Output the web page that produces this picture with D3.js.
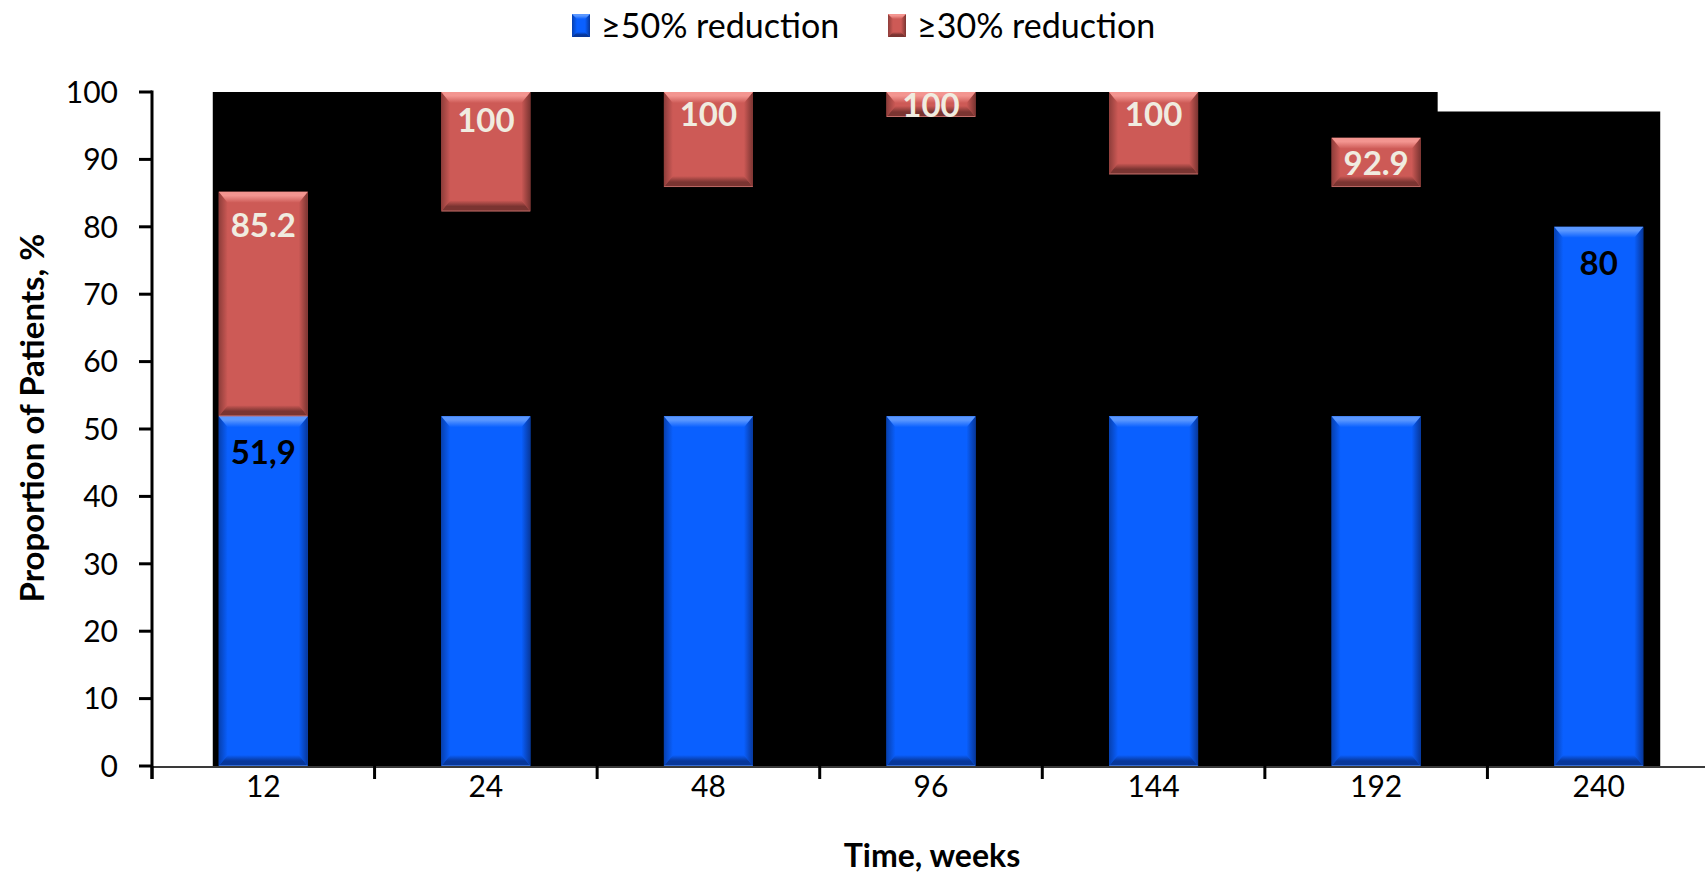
<!DOCTYPE html>
<html><head><meta charset="utf-8">
<script src="https://cdn.jsdelivr.net/npm/d3@7"></script>
<style>body{margin:0;background:#fff} svg{display:block}</style>
</head><body><svg id="c" width="1705" height="876"></svg>
<script>
const categories = ["12","24","48","96","144","192","240"];
const blueValues = [51.9,51.9,51.9,51.9,51.9,51.9,80];
const blueLabels = ["51,9","","","","","","80"];
const redBase = [51.9,82.3,85.9,96.3,87.8,85.9,null];
const redTop = [85.2,100,100,100,100,93.2,null];
const redLabels = ["85.2","100","100","100","100","92.9",""];
const coverTop = [100,100,100,100,100,100,97.1];
const yTicks = [0,10,20,30,40,50,60,70,80,90,100];
const seriesNames = ["≥50% reduction","≥30% reduction"];
const xTitle = "Time, weeks";
const yTitle = "Proportion of Patients, %";

// styling
const redLabelDy = [33,28,22,null,22,null,null];
const blueLabelDy = 36;
const palette = {
  blue:{base:"#0A60FF", light:"#5A97FF", dark:"#07379A", side:"#0640B0"},
  red:{base:"#CD5A56", light:"#F39590", dark:"#7A3431", side:"#8E3D3A"}
};
const FONT = "Lato, 'Open Sans', sans-serif";

const svg = d3.select("#c");
const x = d3.scaleBand().domain(categories).range([152,1710]);
const y = d3.scaleLinear().domain([0,100]).range([766,92]);
const step = x.step(), bw = step*0.4;
const barX = c => x(c) + (step-bw)/2;

const defs = svg.append("defs");
function grad(id, x2, y2, stops){
  const g = defs.append("linearGradient").attr("id",id).attr("x1",0).attr("y1",0).attr("x2",x2).attr("y2",y2);
  stops.forEach(s=>g.append("stop").attr("offset",s[0]).attr("stop-color",s[1]));
}
Object.entries(palette).forEach(([k,p])=>{
  grad(k+"-top",0,1,[[0,p.light],[0.35,p.light],[1,p.base]]);
  grad(k+"-bot",0,1,[[0,p.base],[0.55,p.dark],[0.9,p.dark],[1,p.light]]);
  grad(k+"-left",1,0,[[0,p.side],[1,p.base]]);
  grad(k+"-right",1,0,[[0,p.base],[1,p.dark]]);
});

function bevel(g, x0, y0, w, h, key, bmax){
  const p = palette[key];
  const b = Math.min(bmax||11, h/2, w/2);
  const sb = Math.min(b, 9);
  g.append("rect").attr("x",x0).attr("y",y0).attr("width",w).attr("height",h).attr("fill",p.base);
  g.append("polygon").attr("points",[[x0,y0],[x0+sb,y0+b],[x0+sb,y0+h-b],[x0,y0+h]].join(" ")).attr("fill",`url(#${key}-left)`);
  g.append("polygon").attr("points",[[x0+w,y0],[x0+w-sb,y0+b],[x0+w-sb,y0+h-b],[x0+w,y0+h]].join(" ")).attr("fill",`url(#${key}-right)`);
  g.append("polygon").attr("points",[[x0,y0],[x0+w,y0],[x0+w-sb,y0+b],[x0+sb,y0+b]].join(" ")).attr("fill",`url(#${key}-top)`);
  g.append("polygon").attr("points",[[x0+sb,y0+h-b],[x0+w-sb,y0+h-b],[x0+w,y0+h],[x0,y0+h]].join(" ")).attr("fill",`url(#${key}-bot)`);
}

// black cover area (single step path)
const pts = [];
const bottom = y(0)+2;
const left0 = barX(categories[0])-6;
pts.push([left0,bottom],[left0,y(coverTop[0])]);
categories.forEach((c,i)=>{
  const right = barX(c)+bw+17;
  pts.push([right,y(coverTop[i])]);
  if(i<categories.length-1) pts.push([right,y(coverTop[i+1])]);
  else pts.push([right,bottom]);
});
svg.append("path").attr("d",d3.line()(pts)+"Z").attr("fill","#000");

// axis base line
svg.append("line").attr("x1",152).attr("x2",1705).attr("y1",767).attr("y2",767).attr("stroke","#3a3a3a").attr("stroke-width",2);

// bars
const bars = svg.append("g");
categories.forEach((c,i)=>{
  bevel(bars, barX(c), y(blueValues[i]), bw, y(0)-y(blueValues[i]), "blue");
  if(redBase[i]!=null){
    bevel(bars, barX(c), y(redTop[i]), bw, y(redBase[i])-y(redTop[i]), "red");
  }
});

// labels
const labels = svg.append("g").attr("font-family",FONT).attr("font-weight","bold").attr("font-size",33).attr("text-anchor","middle");
categories.forEach((c,i)=>{
  const cx = barX(c)+bw/2;
  if(redLabels[i]){
    const top = y(redTop[i]), bot = y(redBase[i]);
    const cy = redLabelDy[i]==null ? (top+bot)/2+1 : top+redLabelDy[i];
    labels.append("text").attr("x",cx).attr("y",cy).attr("dy","0.36em").attr("fill","#F0ECE0").text(redLabels[i]);
  }
  if(blueLabels[i]){
    labels.append("text").attr("x",cx).attr("y",y(blueValues[i])+blueLabelDy).attr("dy","0.36em").attr("fill","#000").text(blueLabels[i]);
  }
});

// y axis
const ya = svg.append("g");
ya.append("line").attr("x1",152).attr("x2",152).attr("y1",90.5).attr("y2",779).attr("stroke","#000").attr("stroke-width",3);
yTicks.forEach(v=>{
  ya.append("line").attr("x1",139).attr("x2",152).attr("y1",y(v)).attr("y2",y(v)).attr("stroke","#000").attr("stroke-width",3);
  ya.append("text").attr("x",118).attr("y",y(v)).attr("dy","0.36em").attr("text-anchor","end")
    .attr("font-family",FONT).attr("font-size",30).attr("fill","#000").text(v);
});
// x axis ticks & labels
const xa = svg.append("g");
categories.forEach(c=>{
  xa.append("line").attr("x1",x(c)).attr("x2",x(c)).attr("y1",766).attr("y2",779).attr("stroke","#000").attr("stroke-width",3);
  xa.append("text").attr("x",x(c)+step/2).attr("y",786).attr("dy","0.36em").attr("text-anchor","middle")
    .attr("font-family",FONT).attr("font-size",30).attr("fill","#000").text(c);
});

// titles
svg.append("text").attr("x",932).attr("y",855).attr("dy","0.36em").attr("text-anchor","middle")
  .attr("font-family",FONT).attr("font-weight","bold").attr("font-size",32).text(xTitle);
svg.append("text").attr("transform","translate(32,418) rotate(-90)").attr("dy","0.36em").attr("text-anchor","middle")
  .attr("font-family",FONT).attr("font-weight","bold").attr("font-size",33).text(yTitle);

// legend
const legendX = [572, 888];
const lg = svg.append("g");
seriesNames.forEach((s,i)=>{
  bevel(lg, legendX[i], 14, 18, 23, i===0?"blue":"red", 5);
  lg.append("text").attr("x",legendX[i]+29).attr("y",25.5).attr("dy","0.36em")
    .attr("font-family",FONT).attr("font-size",34).attr("fill","#000").text(s);
});
</script></body></html>
